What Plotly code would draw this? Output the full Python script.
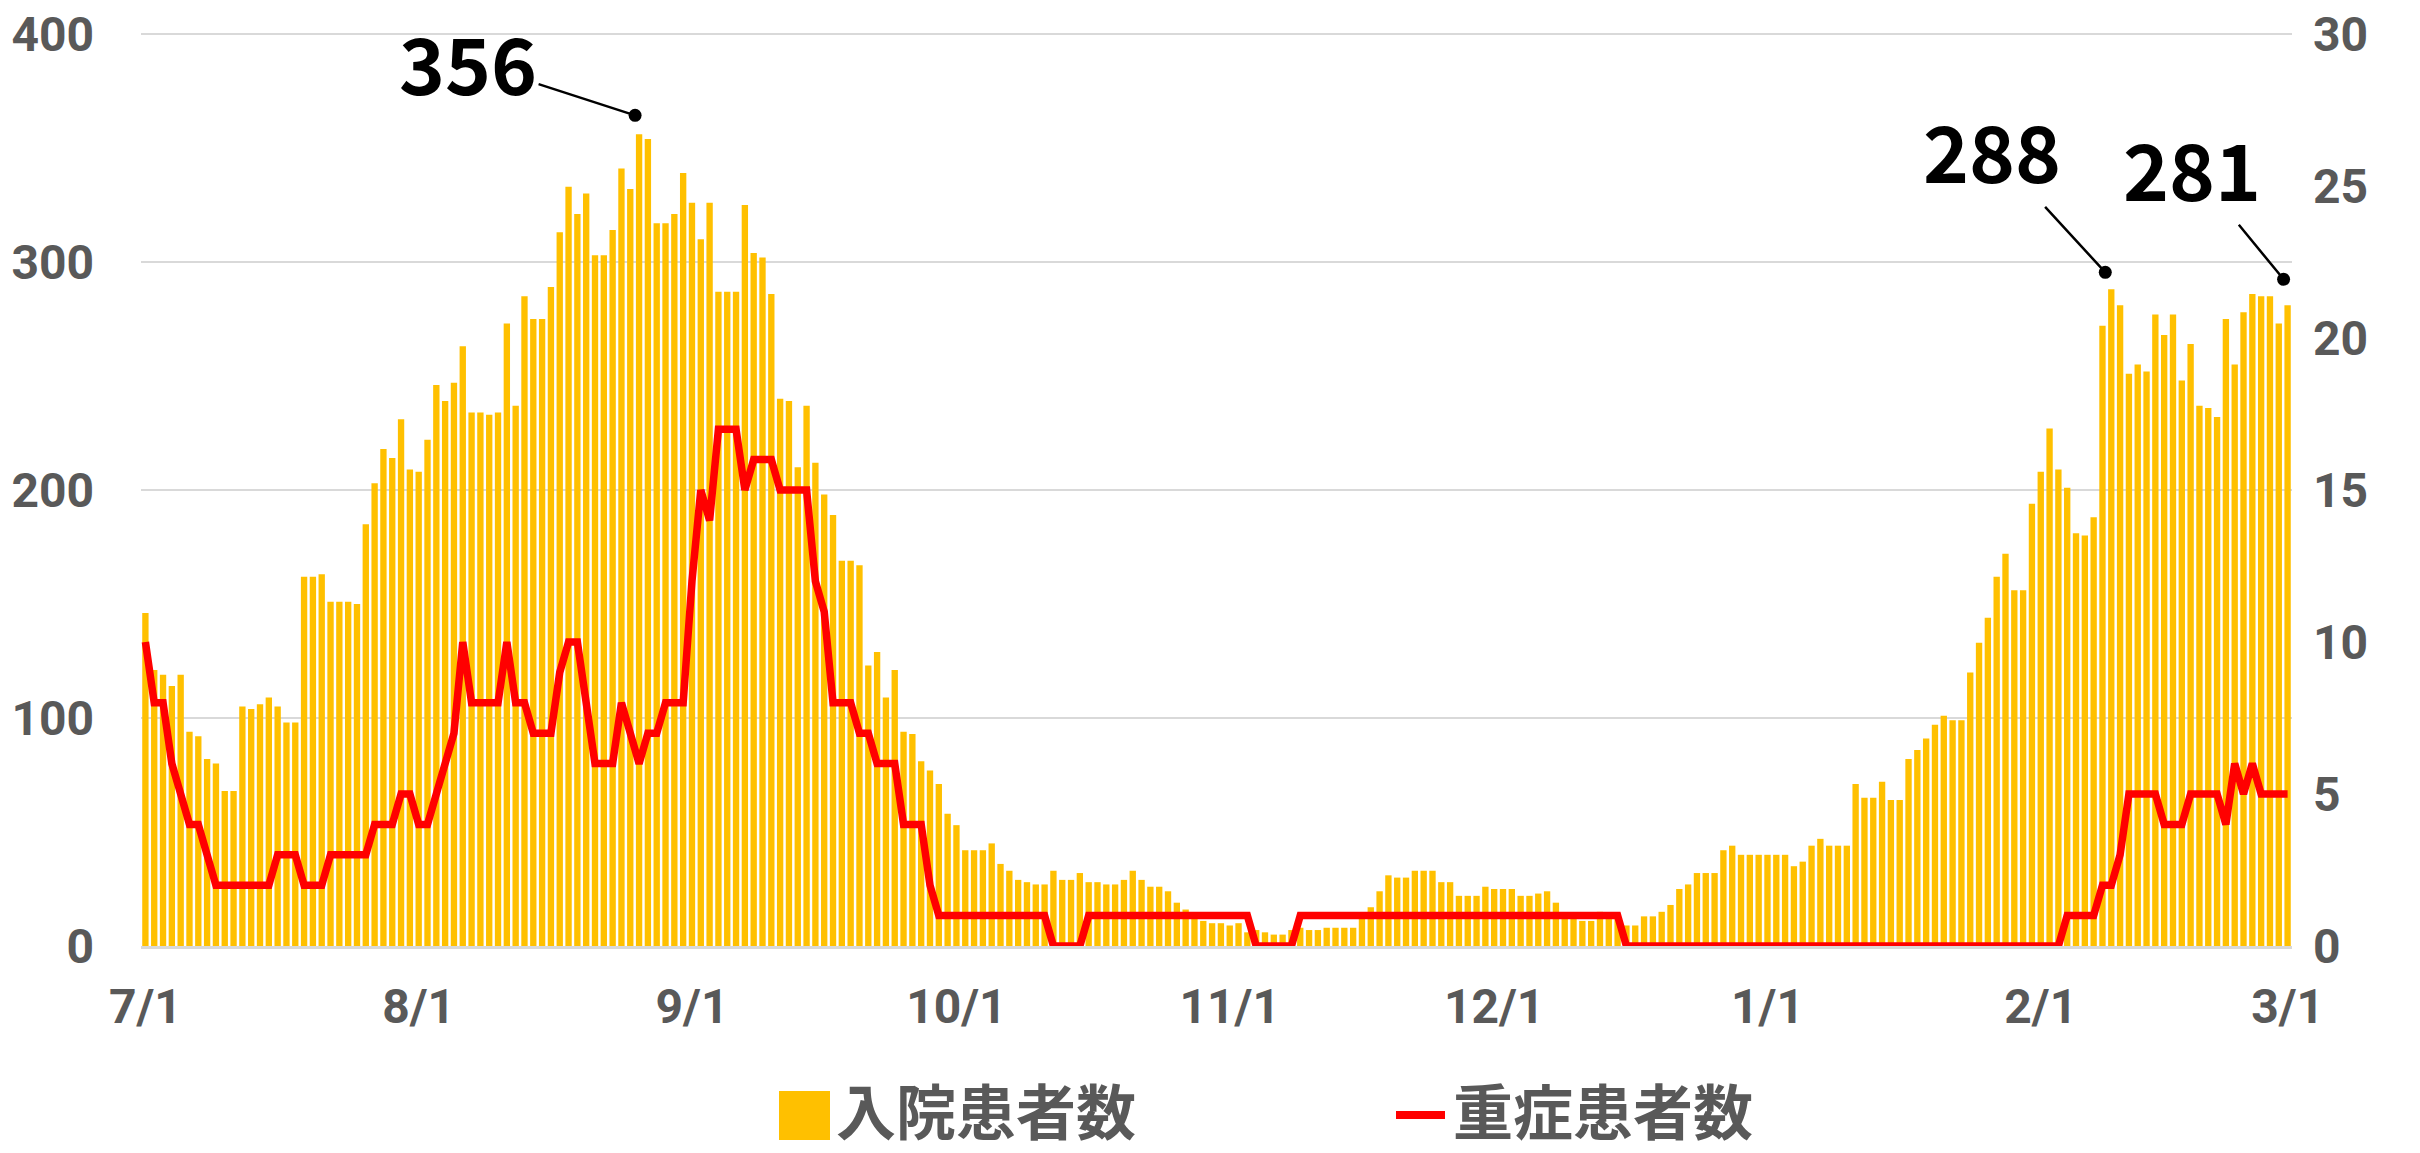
import plotly.graph_objects as go
import pandas as pd

# ---------------- data ----------------
hosp_jul = [146, 121, 119, 114, 119, 94, 92, 82, 80, 68, 68, 105, 104, 106, 109, 105, 98, 98, 162, 162,
            163, 151, 151, 151, 150, 185, 203, 218, 214, 231, 209]
hosp_aug = [208, 222, 246, 239, 247, 263, 234, 234, 233, 234, 273, 237, 285, 275, 275, 289, 313, 333, 321, 330,
            303, 303, 314, 341, 332, 356, 354, 317, 317, 321, 339]
hosp_sep = [326, 310, 326, 287, 287, 287, 325, 304, 302, 286, 240, 239, 210, 237, 212, 198, 189, 169, 169, 167,
            123, 129, 109, 121, 94, 93, 81, 77, 71, 58]
hosp_oct = [53, 42, 42, 42, 45, 36, 33, 29, 28, 27, 27, 33, 29, 29, 32, 28, 28, 27, 27, 29,
            33, 29, 26, 26, 24, 19, 16, 13, 11, 10, 10]
hosp_nov = [9, 10, 6, 7, 6, 5, 5, 7, 8, 7, 7, 8, 8, 8, 8, 12, 17, 24, 31, 30,
            30, 33, 33, 33, 28, 28, 22, 22, 22, 26]
hosp_dec = [25, 25, 25, 22, 22, 23, 24, 19, 14, 13, 11, 11, 15, 14, 13, 9, 9, 13, 13, 15,
            18, 25, 27, 32, 32, 32, 42, 44, 40, 40, 40]
hosp_jan = [40, 40, 40, 35, 37, 44, 47, 44, 44, 44, 71, 65, 65, 72, 64, 64, 82, 86, 91, 97,
            101, 99, 99, 120, 133, 144, 162, 172, 156, 156, 194]
hosp_feb = [208, 227, 209, 201, 181, 180, 188, 272, 288, 281, 251, 255, 252, 277, 268, 277, 248, 264, 237, 236,
            232, 275, 255, 278, 286, 285, 285, 273]
hosp_mar = [281]

severe_jul = [10, 8, 8, 6, 5, 4, 4, 3, 2, 2, 2, 2, 2, 2, 2, 3, 3, 3, 2, 2,
              2, 3, 3, 3, 3, 3, 4, 4, 4, 5, 5]
severe_aug = [4, 4, 5, 6, 7, 10, 8, 8, 8, 8, 10, 8, 8, 7, 7, 7, 9, 10, 10, 8,
              6, 6, 6, 8, 7, 6, 7, 7, 8, 8, 8]
severe_sep = [12, 15, 14, 17, 17, 17, 15, 16, 16, 16, 15, 15, 15, 15, 12, 11, 8, 8, 8, 7,
              7, 6, 6, 6, 4, 4, 4, 2, 1, 1]
severe_oct = [1, 1, 1, 1, 1, 1, 1, 1, 1, 1, 1, 0, 0, 0, 0, 1, 1, 1, 1, 1,
              1, 1, 1, 1, 1, 1, 1, 1, 1, 1, 1]
severe_nov = [1, 1, 1, 0, 0, 0, 0, 0, 1, 1, 1, 1, 1, 1, 1, 1, 1, 1, 1, 1,
              1, 1, 1, 1, 1, 1, 1, 1, 1, 1]
severe_dec = [1, 1, 1, 1, 1, 1, 1, 1, 1, 1, 1, 1, 1, 1, 1, 0, 0, 0, 0, 0,
              0, 0, 0, 0, 0, 0, 0, 0, 0, 0, 0]
severe_jan = [0, 0, 0, 0, 0, 0, 0, 0, 0, 0, 0, 0, 0, 0, 0, 0, 0, 0, 0, 0,
              0, 0, 0, 0, 0, 0, 0, 0, 0, 0, 0]
severe_feb = [0, 0, 0, 1, 1, 1, 1, 2, 2, 3, 5, 5, 5, 5, 4, 4, 4, 5, 5, 5,
              5, 4, 6, 5, 6, 5, 5, 5]
severe_mar = [5]

tick_dates = ["2021-07-01", "2021-08-01", "2021-09-01", "2021-10-01", "2021-11-01",
              "2021-12-01", "2022-01-01", "2022-02-01", "2022-03-01"]
tick_labels = ["7/1", "8/1", "9/1", "10/1", "11/1", "12/1", "1/1", "2/1", "3/1"]
left_ticks = [0, 100, 200, 300, 400]
right_ticks = [0, 5, 10, 15, 20, 25, 30]
callout_dates = ["2021-08-26", "2022-02-09", "2022-03-01"]

name_hosp = "入院患者数"
name_severe = "重症患者数"

hosp = hosp_jul + hosp_aug + hosp_sep + hosp_oct + hosp_nov + hosp_dec + hosp_jan + hosp_feb + hosp_mar
severe = (severe_jul + severe_aug + severe_sep + severe_oct + severe_nov + severe_dec
          + severe_jan + severe_feb + severe_mar)
dates = pd.date_range("2021-07-01", "2022-03-01", freq="D")
assert len(hosp) == len(dates) == len(severe)

# ---------------- styling ----------------
W, H = 2420, 1153
L, R, T, B = 141, 2292, 31, 946
TOP_TICK_Y = 34           # pixel row of the 400 / 30 gridline
EXT = (B - T) / (B - TOP_TICK_Y)   # small headroom so the top gridline is drawn
GOLD = "#FFC000"
RED = "#FF0000"
GRAY = "#595959"
GRID = "#D9D9D9"
FONT = "Noto Sans CJK JP, Noto Sans, sans-serif"
TICKFONT = "Roboto, Noto Sans, sans-serif"


def px(xp):
    return (xp - L) / (R - L)


def py(yp):
    return (B - yp) / (B - T)


fig = go.Figure()
fig.add_trace(go.Bar(x=dates, y=hosp, name=name_hosp, marker=dict(color=GOLD, line=dict(width=0)),
                     showlegend=False, yaxis="y"))
fig.add_trace(go.Scatter(x=dates, y=severe, name=name_severe, mode="lines",
                         line=dict(color=RED, width=7.5), showlegend=False, yaxis="y2"))

# callouts
callout_cfg = [(-4, 19, -167, -54), (-6, 17, -113, -123), (-4, 26, -92, -112)]
annotations = []
for d, (xs, ys, ax, ay) in zip(callout_dates, callout_cfg):
    i = list(dates).index(pd.Timestamp(d))
    annotations.append(dict(
        x=dates[i], y=hosp[i], xref="x", yref="y", text=str(hosp[i]),
        showarrow=True, arrowhead=6, arrowsize=1.3, arrowwidth=2.5, arrowcolor="black",
        ax=ax, ay=ay, xshift=xs, yshift=ys, standoff=0,
        font=dict(family=FONT, size=78, color="black", weight="bold"),
    ))

# custom legend
for xpos, label in [(834, name_hosp), (1451, name_severe)]:
    annotations.append(dict(x=px(xpos), y=py(1108), xref="paper", yref="paper", text=label,
                            showarrow=False, xanchor="left", yanchor="middle",
                            font=dict(family=FONT, size=60, color=GRAY, weight="bold")))
shapes = [
    dict(type="rect", xref="paper", yref="paper", x0=px(779), x1=px(830), y0=py(1140), y1=py(1091),
         fillcolor=GOLD, line=dict(width=0)),
    dict(type="line", xref="paper", yref="paper", x0=px(1396), x1=px(1445), y0=py(1115), y1=py(1115),
         line=dict(color=RED, width=8)),
]

tickfont = dict(family=TICKFONT, size=48, color=GRAY, weight="bold")

fig.update_layout(
    width=W, height=H,
    margin=dict(l=L, r=W - R, t=T, b=H - B, pad=0, autoexpand=False),
    paper_bgcolor="white", plot_bgcolor="white",
    bargap=0.28,
    font=dict(family=FONT, color=GRAY),
    xaxis=dict(
        type="date", automargin=False,
        range=[dates[0] - pd.Timedelta(hours=12), dates[-1] + pd.Timedelta(hours=12)],
        tickmode="array", tickvals=tick_dates, ticktext=tick_labels,
        tickfont=tickfont,
        showgrid=False, showline=True, linecolor=GRID, linewidth=3,
        ticks="", ticklabelstandoff=16, zeroline=False,
    ),
    yaxis=dict(
        automargin=False,
        range=[0, left_ticks[-1] * EXT], tickmode="array", tickvals=left_ticks,
        showgrid=True, gridcolor=GRID, gridwidth=2,
        showline=False, zeroline=False, ticks="",
        tickfont=tickfont,
        ticklabelstandoff=46, ticklabeloverflow="allow",
    ),
    yaxis2=dict(
        automargin=False,
        range=[0, right_ticks[-1] * EXT], tickmode="array", tickvals=right_ticks,
        overlaying="y", side="right",
        showgrid=False, showline=False, zeroline=False, ticks="",
        tickfont=tickfont,
        ticklabelstandoff=20, ticklabeloverflow="allow",
    ),
    annotations=annotations,
    shapes=shapes,
    showlegend=False,
)

fig.write_html("out.html", config={"displayModeBar": False},
               post_script="document.body.style.margin='0';document.body.style.overflow='hidden';")
